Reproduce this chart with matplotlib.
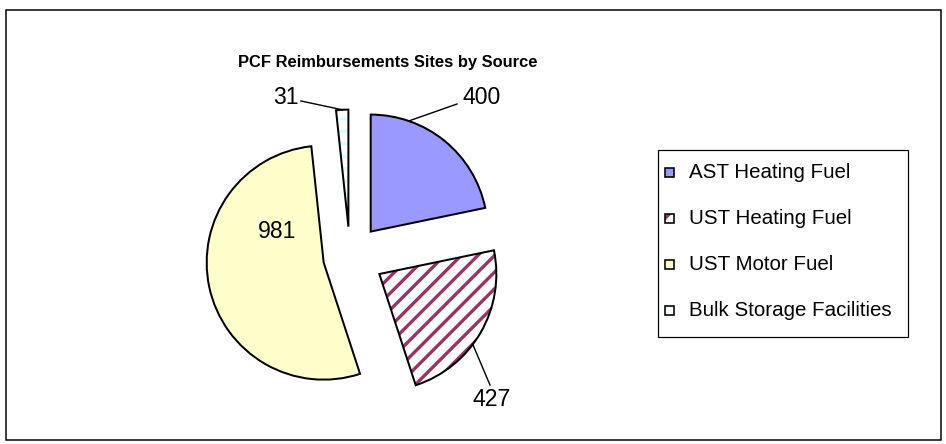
import numpy as np
import matplotlib.pyplot as plt
from matplotlib.patches import Rectangle

# data
sources = ['AST Heating Fuel', 'UST Heating Fuel', 'UST Motor Fuel', 'Bulk Storage Facilities']
sites = [400, 427, 981, 31]

# styles
fills = ['#9999FF', 'white', '#FFFFCC', 'white']
hatches = ['', '///', '', '--']
hatch_cols = ['#9999FF', '#993366', '#FFFFCC', '#D6FFFF']
explode = [0.28, 0.29, 0.23, 0.26]

W, H, DPI = 946, 444, 150
CX, CY, R = 350, 257, 117   # pie centre / radius in pixels (y from top)

plt.rcParams['font.family'] = ['Liberation Sans', 'DejaVu Sans']
plt.rcParams['hatch.linewidth'] = 1.6


def pt(px):
    return px * 72 / DPI


def to_data(px, py):
    return (px - CX) / R, (CY - py) / R


def to_fig(px, py):
    return px / W, 1 - py / H


fig = plt.figure(figsize=(W / DPI, H / DPI), dpi=DPI)
ax = fig.add_axes([0, 0, 1, 1])

# fill + hatch layer
wedges, _ = ax.pie(sites, explode=explode, colors=fills, startangle=90,
                   counterclock=False, wedgeprops=dict(linewidth=0))
for w, h, hc in zip(wedges, hatches, hatch_cols):
    if h:
        w.set_hatch(h)
        w.set_edgecolor(hc)

# black outlines on top
ax.pie(sites, explode=explode, startangle=90, counterclock=False,
       wedgeprops=dict(linewidth=pt(2.0), edgecolor='black', fill=False))

ax.set_xlim(-CX / R, (W - CX) / R)
ax.set_ylim(-(H - CY) / R, CY / R)
ax.set_aspect('auto')
ax.axis('off')

# value labels with leader lines: (wedge, arc angle, text pos, line end)
lab_size = pt(23)
leaders = [(0, 71, (482, 98), (457, 104)),
           (1, -37, (492, 400), (490, 385)),
           (3, 93, (286, 98), (301, 101))]
for i, ang, tpos, lend in leaders:
    w = wedges[i]
    x0, y0 = w.center
    ax_pt = (x0 + w.r * np.cos(np.radians(ang)), y0 + w.r * np.sin(np.radians(ang)))
    ex, ey = to_data(*lend)
    ax.plot([ax_pt[0], ex], [ax_pt[1], ey], color='black', lw=pt(1.4))
    tx, ty = to_data(*tpos)
    ax.text(tx, ty, str(sites[i]), ha='center', va='center', fontsize=lab_size)

tx, ty = to_data(277, 232)
ax.text(tx, ty, str(sites[2]), ha='center', va='center', fontsize=lab_size)

# title
fig.text(*to_fig(388, 63), 'PCF Reimbursements Sites by Source', ha='center', va='center',
         fontsize=pt(16.5), fontweight='bold')

# legend box
lx0, ly0, lx1, ly1 = 658, 150, 908, 337
fig.add_artist(Rectangle(to_fig(lx0, ly1), (lx1 - lx0) / W, (ly1 - ly0) / H,
                         transform=fig.transFigure, fill=False, edgecolor='black', lw=pt(1.2)))
ms = 9
for i, name in enumerate(sources):
    y = 172 + 46 * i
    m = Rectangle(to_fig(665, y + ms / 2), ms / W, ms / H, transform=fig.transFigure,
                  facecolor=fills[i], edgecolor=hatch_cols[i], lw=0, hatch=hatches[i] or None)
    fig.add_artist(m)
    fig.add_artist(Rectangle(to_fig(665, y + ms / 2), ms / W, ms / H, transform=fig.transFigure,
                             fill=False, edgecolor='black', lw=pt(1.6)))
    fig.text(*to_fig(689, y), name, ha='left', va='center', fontsize=pt(20.5))

# outer border
fig.add_artist(Rectangle(to_fig(6, 440), 935 / W, 430 / H, transform=fig.transFigure,
                         fill=False, edgecolor='black', lw=pt(1.5)))

fig.savefig('out.png', dpi=DPI)
